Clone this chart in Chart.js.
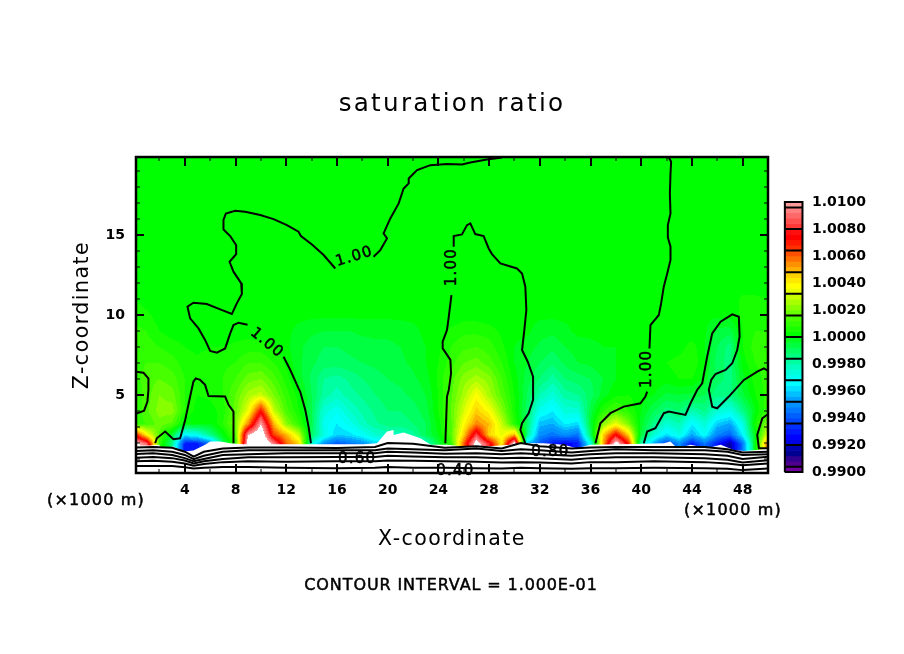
<!DOCTYPE html>
<html><head><meta charset="utf-8">
<style>html,body{margin:0;padding:0;background:#fff}canvas{display:block}</style>
<script src="https://cdn.jsdelivr.net/npm/chart.js@4"></script>
</head><body><canvas id="c" width="904" height="654"></canvas>
<script>
const titleText = "saturation ratio";
const xTitle = "X-coordinate";
const zTitle = "Z-coordinate";
const intervalText = "CONTOUR INTERVAL = 1.000E-01";
const unitText = "(\u00d71000 m)";
const xLabelled = [4,8,12,16,20,24,28,32,36,40,44,48];
const xUnlabelled = [2,6,10,14,18,22,26,30,34,38,42,46];
const zLabelled = [5,10,15];
const zUnlabelled = [1,2,3,4,6,7,8,9,11,12,13,14,16,17,18,19];
const colorbarTicks = [1.01,1.008,1.006,1.004,1.002,1.0,0.998,0.996,0.994,0.992,0.99];

// saturation ratio minus one, in units of 1e-4, on rows of constant height
const fieldX = [0,1,2,3,4,5,6,7,8,9,10,11,12,13,14,15,16,17,18,19,20,21,22,23,24,25,26,27,28,29,30,31,32,33,34,35,36,37,38,39,40,41,42,43,44,45,46,47,48,49,50];
const fieldZ = [1.95,2.5,3.2,4,5,6,7,8,9,10,11,12,20];
const sat_z1 = [110,90,10,-15,-70,-70,-55,-10,10,110,125,95,60,45,-25,-50,-60,-55,-50,-40,-40,-45,-45,-25,-5,10,60,110,80,40,110,-40,-60,-70,-75,-70,-30,50,110,70,-20,-45,-65,-50,-70,-55,-70,-85,-55,0,60];
const sat_z2 = [75,40,15,-5,-35,-30,-15,0,15,100,115,65,50,30,-10,-28,-40,-38,-32,-25,-22,-22,-18,-8,0,15,45,85,45,35,50,-15,-50,-55,-50,-55,-10,45,75,45,-5,-25,-38,-28,-45,-32,-52,-58,-35,0,35];
const sat_z3 = [10,12,18,15,0,0,0,8,20,55,100,50,22,10,-8,-30,-36,-30,-22,-17,-14,-14,-12,-8,2,15,38,55,48,30,8,-10,-42,-44,-35,-38,-5,22,35,20,-2,-15,-25,-20,-35,-25,-40,-45,-28,5,22];
const sat_z4 = [8,15,22,22,8,2,2,6,18,35,72,30,14,4,-8,-26,-31,-24,-19,-15,-12,-12,-10,-6,4,16,32,46,38,22,5,-10,-30,-36,-26,-26,-6,8,14,8,0,-8,-14,-12,-20,-15,-25,-28,-15,0,12];
const sat_z5 = [8,14,20,18,8,4,5,8,16,26,30,20,10,2,-8,-18,-22,-18,-15,-12,-10,-9,-7,-4,4,15,26,38,26,15,4,-8,-20,-26,-18,-16,-10,-2,3,4,2,0,-5,-4,-5,-8,-15,-14,-5,4,10];
const sat_z6 = [10,14,16,14,8,5,6,8,12,18,20,14,6,-2,-9,-16,-18,-15,-12,-10,-8,-7,-5,-2,5,14,22,26,22,12,2,-6,-12,-18,-12,-10,-8,-4,0,2,3,3,2,4,4,-2,-10,-14,-2,6,10];
const sat_z7 = [10,12,12,10,6,5,6,7,8,12,12,8,3,-3,-7,-10,-10,-9,-8,-7,-6,-5,-3,0,4,10,16,18,14,8,0,-4,-8,-11,-7,-4,-3,-1,0,2,2,3,4,6,8,0,-10,-14,2,8,10];
const sat_z8 = [10,10,8,6,4,3,4,4,5,6,6,4,1,-3,-6,-8,-8,-7,-6,-5,-5,-4,-2,0,3,8,11,12,10,5,0,-2,-5,-7,-4,-2,-1,0,0,0,1,1,1,2,6,0,-8,-14,4,10,10];
const sat_z9 = [9,8,4,2,2,1,1,1,2,2,1,1,1,-1,-3,-4,-4,-4,-3,-3,-3,-2,-1,1,2,5,7,7,6,3,1,1,-2,-3,-1,1,1,1,1,1,1,1,1,1,1,1,-5,-6,4,8,8];
const sat_z10 = [7,5,2,1,1,1,1,1,1,1,1,1,1,1,1,1,1,1,1,1,1,1,1,1,1,1,2,2,1,1,1,1,1,1,1,1,1,1,1,1,1,1,1,1,1,1,1,2,5,6,6];
const sat_z11 = [4,2,1,1,1,1,1,1,1,1,1,1,1,1,1,1,1,1,1,1,1,1,1,1,1,1,1,1,1,1,1,1,1,1,1,1,1,1,1,1,1,1,1,1,1,1,1,1,5,5,4];
const sat_z12 = [1,1,1,1,1,1,1,1,1,1,1,1,1,1,1,1,1,1,1,1,1,1,1,1,1,1,1,1,1,1,1,1,1,1,1,1,1,1,1,1,1,1,1,1,1,1,1,1,1,1,1];
const sat_z20 = [1,1,1,1,1,1,1,1,1,1,1,1,1,1,1,1,1,1,1,1,1,1,1,1,1,1,1,1,1,1,1,1,1,1,1,1,1,1,1,1,1,1,1,1,1,1,1,1,1,1,1];
const fieldRows = [sat_z1,sat_z2,sat_z3,sat_z4,sat_z5,sat_z6,sat_z7,sat_z8,sat_z9,sat_z10,sat_z11,sat_z12,sat_z20];

// colour of each 4e-4 band, from 0.9900 upward
const bandColors = ["#7000a0","#500090","#300090","#000090","#0000b0","#0000e0","#0000ff","#0018ff","#0030ff","#0048ff","#0060ff","#0078ff","#0090ff","#00a0ff","#00c0ff","#00e0ff","#00ffff","#00fff0","#00ffd8","#00ffc0","#00ffa0","#00ff80","#00ff60","#00ff40","#00ff20",
"#00ff00","#18ff00","#30ff00","#48ff00","#68ff00","#88ff00","#a8ff00","#c8ff00","#e8ff00","#ffff00","#ffe800","#ffd000","#ffb000","#ff9000","#ff7000","#ff5000","#ff3000","#ff1800","#ff0000","#ff1010","#ff3838","#ff5050","#ff6868","#ff8080","#ff9a9a"];
const colorbarLines = [96,80,64,48,32,16,0,-16,-32,-48,-64,-80,-96];

// 1.00 contours (x km, z km)
const c100a = [[15.87,12.91],[14.95,13.75],[14.03,14.41],[13.16,14.94],[12.97,15.21],[12.05,15.62],[11.0,16.0],[9.95,16.25],[8.76,16.46],[7.97,16.52],[7.24,16.35],[7.05,15.94],[7.05,15.35],[7.58,14.94],[8.05,14.37],[8.05,13.81],[7.53,13.33],[7.84,12.71],[8.45,11.98],[8.5,11.31],[8.1,10.73],[7.71,10.06],[6.79,10.35],[5.74,10.69],[4.68,10.77],[4.21,10.52],[4.42,9.79],[5.08,9.16],[5.6,8.44],[6.0,7.75],[6.53,7.64],[7.18,7.91],[7.58,8.85],[7.84,9.37],[8.24,9.52],[8.95,9.39]];
const c100b = [[11.79,7.39],[12.32,6.56],[12.97,5.41],[13.1,5.21],[13.5,4.07],[13.76,3.02],[13.95,1.98]];
const c100c = [[0.1,6.46],[0.74,6.39],[1.13,6.04],[1.13,5.31],[1.05,4.59],[0.79,4.02],[0.1,3.81]];
const c100d = [[1.66,1.98],[1.79,2.29],[2.45,2.71],[3.1,2.23],[3.63,2.29],[4.03,3.44],[4.42,4.9],[4.68,5.84],[4.87,6.04],[5.21,5.94],[5.6,5.63],[5.87,4.94],[7.18,4.9],[7.45,4.38],[7.84,3.96],[7.84,1.98]];
const c100e = [[18.89,13.64],[19.42,14.06],[19.95,14.79],[19.68,15.1],[20.21,16.04],[20.87,16.98],[21.26,17.91],[21.66,18.23],[21.66,18.54],[22.32,19.06],[23.37,19.37],[24.68,19.44],[25.86,19.41],[26.52,19.54],[27.83,19.73],[29.02,19.85]];
const c100f = [[25.03,11.25],[24.82,9.89],[24.68,9.06],[24.34,8.33],[24.34,7.91],[24.95,7.19],[25.0,6.35],[24.82,5.31],[24.68,4.9],[24.55,1.98]];
const c100g = [[25.21,14.27],[25.21,14.94],[25.86,15.04],[26.26,15.62],[26.52,15.73],[26.91,15.06],[27.57,14.94],[27.97,14.16],[28.23,13.81],[28.89,13.23],[30.2,12.91],[30.6,12.6],[30.86,11.77],[30.94,10.31],[30.78,9.06],[30.6,7.81],[31.05,7.08],[31.47,6.14],[31.47,5.31],[31.47,4.69],[31.12,3.86],[30.6,3.23],[30.47,2.81],[30.86,1.98]];
const c100h = [[42.18,19.85],[42.36,19.58],[42.31,18.85],[42.26,17.6],[42.31,16.35],[42.1,15.62],[42.1,14.85],[42.31,14.27],[42.31,13.44],[42.05,12.6],[41.78,11.77],[41.57,10.73],[41.39,10.0],[40.73,9.37],[40.65,7.91]];
const c100i = [[40.47,5.21],[40.33,4.9],[39.94,4.48],[38.62,4.27],[37.57,3.86],[36.78,3.23],[36.39,1.98]];
const c100j = [[40.2,1.98],[40.47,2.71],[41.12,2.92],[41.78,3.86],[42.18,3.96],[43.49,3.75],[43.89,4.48],[44.41,5.31],[44.81,5.73],[45.2,7.39],[45.6,8.85],[46.26,9.58],[47.18,10.04],[47.7,9.89],[47.76,8.64],[47.57,7.81],[47.18,6.98],[46.65,6.56],[45.86,6.31],[45.52,5.94],[45.33,5.31],[45.6,4.27],[45.99,4.17],[46.91,4.9],[48.1,5.94],[49.15,6.46],[49.68,6.66],[50.1,6.46]];
const c100k = [[50.1,3.86],[49.55,3.54],[49.15,2.5],[49.28,1.67],[50.1,1.67]];
const contourLines = [c100a,c100b,c100c,c100d,c100e,c100f,c100g,c100h,c100i,c100j,c100k];

// contour labels: text, x km, z km, rotation degrees
const contourLabelText = ["1.00","1.00","1.00","1.00","0.60","0.80","0.40"];
const contourLabelX = [17.37,10.47,25.07,40.48,17.59,32.84,25.34];
const contourLabelZ = [13.64,8.25,13.0,6.63,1.0,1.44,0.25];
const contourLabelRot = [-17,40,-90,-90,0,0,0];

// white terrain outline
const terrainTopX = [0.1,1.26,1.92,2.32,3.1,3.9,4.68,5.6,6,6.79,7.58,8.63,13.9,18.1,19.16,19.95,20.47,20.47,21.26,22.58,23.4,24.7,26,27.83,29.68,30.73,32.3,33.9,34.94,36,39.4,41.78,42.3,42.84,43.9,45.2,46.26,47.3,48.1,49.15,50.1];
const terrainTopZ = [1.84,1.84,1.88,1.67,1.77,1.46,1.52,1.88,2.09,2.09,1.98,1.92,1.92,1.92,1.98,2.71,2.81,2.5,2.65,2.29,1.88,1.88,1.77,1.77,1.88,1.98,1.98,1.88,1.67,1.88,1.94,1.98,2.09,1.67,1.88,1.67,1.88,1.56,1.5,1.56,1.67];

// lower contours inside the terrain-following layer
const lowX = [0.1,1.5,3,4,4.7,5.5,7,9,12,16,19,20,22,24.5,27,29,30.5,32,34.5,36,38,41,45,46.8,48,50.1];
const low1 = [1.72,1.75,1.7,1.45,1.15,1.45,1.65,1.72,1.72,1.68,1.75,2.0,1.95,1.7,1.8,1.65,2.0,1.8,1.65,1.72,1.75,1.75,1.75,1.6,1.4,1.45];
const low2 = [1.5,1.55,1.45,1.25,0.98,1.2,1.45,1.55,1.55,1.55,1.55,1.65,1.6,1.55,1.65,1.5,1.6,1.55,1.4,1.5,1.6,1.55,1.55,1.45,1.25,1.3];
const low3 = [1.3,1.35,1.25,1.05,0.85,1.0,1.25,1.3,1.35,1.35,1.35,1.45,1.4,1.32,1.35,1.3,1.35,1.3,1.2,1.3,1.35,1.35,1.3,1.2,1.0,1.15];
const low4 = [1.08,1.12,1.05,0.9,0.72,0.85,1.0,1.1,1.1,1.12,1.12,1.2,1.15,1.1,1.1,1.05,1.08,1.05,0.95,1.05,1.1,1.1,1.05,0.95,0.78,0.92];
const low5 = [0.85,0.88,0.82,0.72,0.58,0.68,0.8,0.85,0.82,0.85,0.85,0.9,0.88,0.85,0.82,0.78,0.8,0.78,0.72,0.8,0.8,0.85,0.8,0.72,0.6,0.72];
const low6 = [0.55,0.55,0.55,0.48,0.4,0.45,0.5,0.5,0.45,0.42,0.45,0.5,0.45,0.45,0.42,0.4,0.45,0.42,0.38,0.42,0.42,0.45,0.42,0.38,0.3,0.4];
const lowLines = [low1,low2,low3,low4,low5,low6];

const sans = '"DejaVu Sans", sans-serif';
const toPts = a => a.map(p => ({x:p[0], y:p[1]}));
const colorFor = v => {
  if (v >= 100 || v < -100) return null;
  return bandColors[Math.min(49, Math.floor((v + 100) / 4))];
};
const hexRGB = h => [parseInt(h.slice(1,3),16),parseInt(h.slice(3,5),16),parseInt(h.slice(5,7),16)];

function sampleField(x, z) {
  let i = Math.floor(x); i = Math.max(0, Math.min(fieldX.length - 2, i));
  const tx = Math.max(0, Math.min(1, (x - fieldX[i]) / (fieldX[i+1] - fieldX[i])));
  let j = 0; while (j < fieldZ.length - 2 && z > fieldZ[j+1]) j++;
  const tz = Math.max(0, Math.min(1, (z - fieldZ[j]) / (fieldZ[j+1] - fieldZ[j])));
  const a = fieldRows[j], b = fieldRows[j+1];
  return (a[i]*(1-tx)+a[i+1]*tx)*(1-tz) + (b[i]*(1-tx)+b[i+1]*tx)*tz;
}

const spaced = (obj, method, spacing) => {
  const f = obj[method];
  obj[method] = function(...args){ this.ctx.letterSpacing = spacing; f.apply(this, args); this.ctx.letterSpacing = '0px'; };
};

const fieldPlugin = {
  id:'fieldPlugin',
  beforeDraw(chart){
    if (chart.$spaced) return; chart.$spaced = true;
    spaced(chart.titleBlock,'draw','2.3px');
    spaced(chart.scales.x,'drawTitle','1.5px');
    spaced(chart.scales.y,'drawTitle','1.5px');
  },
  beforeDatasetsDraw(chart){
    const {ctx, chartArea:a, scales:{x,y}} = chart;
    const w = Math.round(a.right-a.left), h = Math.round(a.bottom-a.top);
    const off = document.createElement('canvas'); off.width = w; off.height = h;
    const oc = off.getContext('2d'); const img = oc.createImageData(w,h);
    for (let py=0; py<h; py++) { const z = y.getValueForPixel(a.top+py+0.5);
      for (let px=0; px<w; px++) { const v = sampleField(x.getValueForPixel(a.left+px+0.5), z);
        const c = colorFor(v), k = (py*w+px)*4; const rgb = c ? hexRGB(c) : [255,255,255];
        img.data[k]=rgb[0]; img.data[k+1]=rgb[1]; img.data[k+2]=rgb[2]; img.data[k+3]=255; } }
    oc.putImageData(img,0,0);
    ctx.drawImage(off,a.left,a.top);
  }
};

const inked = (ctx,t,px,py) => { ctx.fillText(t,px,py); ctx.strokeText(t,px,py); };

const decorPlugin = {
  id:'decorPlugin',
  afterDatasetsDraw(chart){
    const {ctx, chartArea:a, scales:{x,y}} = chart;
    ctx.save();
    ctx.strokeStyle='#000'; ctx.lineWidth=2; ctx.beginPath();
    const vt=(v,l)=>{const p=Math.round(x.getPixelForValue(v));ctx.moveTo(p,a.bottom);ctx.lineTo(p,a.bottom-l);ctx.moveTo(p,a.top);ctx.lineTo(p,a.top+l);};
    const ht=(v,l)=>{const p=Math.round(y.getPixelForValue(v));ctx.moveTo(a.left,p);ctx.lineTo(a.left+l,p);ctx.moveTo(a.right,p);ctx.lineTo(a.right-l,p);};
    xLabelled.forEach(v=>vt(v,9)); zLabelled.forEach(v=>ht(v,8));
    ctx.stroke();
    ctx.lineWidth=1; ctx.beginPath();
    xUnlabelled.forEach(v=>vt(v,4)); zUnlabelled.forEach(v=>ht(v,4));
    ctx.stroke();
    ctx.lineWidth=2.5; ctx.strokeRect(a.left,a.top,a.right-a.left,a.bottom-a.top);
    ctx.fillStyle='#000'; ctx.textAlign='center'; ctx.textBaseline='middle';
    ctx.lineWidth=0.5; ctx.lineJoin='round';
    ctx.font='15px '+sans; ctx.letterSpacing='1.2px';
    contourLabelText.forEach((t,i)=>{
      ctx.save(); ctx.translate(x.getPixelForValue(contourLabelX[i]),y.getPixelForValue(contourLabelZ[i]));
      ctx.rotate(contourLabelRot[i]*Math.PI/180); inked(ctx,t,0,0); ctx.restore();
    });
    ctx.font='16px '+sans; ctx.letterSpacing='1.2px';
    inked(ctx,unitText,96,501); inked(ctx,unitText,733,511);
    ctx.font='16px '+sans; ctx.letterSpacing='0.9px';
    inked(ctx,intervalText,451,586);
    ctx.restore();
  }
};

const datasets = [];
contourLines.forEach((c,i)=>datasets.push({label:'1.00 contour '+(i+1),type:'scatter',data:toPts(c),showLine:true,pointRadius:0,borderColor:'#000',borderWidth:2,tension:0,fill:false,order:1}));
lowLines.forEach((l,i)=>datasets.push({label:'lower contour '+(i+1),type:'scatter',data:lowX.map((vx,k)=>({x:vx,y:l[k]})),showLine:true,pointRadius:0,borderColor:'#000',borderWidth:2,tension:0,fill:false,order:2}));
datasets.push({label:'terrain',type:'scatter',data:terrainTopX.map((vx,k)=>({x:vx,y:terrainTopZ[k]})),showLine:true,pointRadius:0,borderWidth:0,borderColor:'#fff',backgroundColor:'#fff',fill:'start',tension:0,order:5});
const fieldPts=[]; fieldRows.forEach((r,j)=>r.forEach((v,i)=>fieldPts.push({x:fieldX[i],y:fieldZ[j],v})));
datasets.push({label:'saturation ratio',type:'scatter',data:fieldPts,pointRadius:0,showLine:false,order:9});
// colour bar
const cbX = 52.0, cbLeft = 51.33, cbRight = 52.72;
datasets.push({label:'colour bar',type:'bar',xAxisID:'x',yAxisID:'y2',clip:false,barThickness:18,borderWidth:0,order:4,
  data:bandColors.map((c,i)=>({x:cbX,y:[0.99+i*0.0004,0.99+(i+1)*0.0004]})),
  backgroundColor:bandColors});
const cbLinePts=[{x:cbLeft,y:0.99},{x:cbRight,y:0.99},{x:cbRight,y:1.01},{x:cbLeft,y:1.01},{x:cbLeft,y:0.99},{x:NaN,y:NaN}];
colorbarLines.forEach(v=>{cbLinePts.push({x:cbLeft,y:1+v*1e-4},{x:cbRight,y:1+v*1e-4},{x:NaN,y:NaN});});
datasets.push({label:'colour bar lines',type:'scatter',yAxisID:'y2',clip:false,data:cbLinePts,showLine:true,pointRadius:0,borderColor:'#000',borderWidth:2,order:3});

new Chart(document.getElementById('c'),{
  type:'scatter',
  data:{datasets},
  options:{
    responsive:false,animation:false,devicePixelRatio:1,
    layout:{padding:0},
    plugins:{legend:{display:false},tooltip:{enabled:false},
      title:{display:true,text:titleText,color:'#000',font:{family:sans,size:24.6,weight:'normal',lineHeight:1.2},padding:{top:90,bottom:37.5}}},
    scales:{
      x:{type:'linear',min:0.15,max:50.0,position:'bottom',offset:false,
        afterFit(s){s.height=654-473;},
        afterBuildTicks(s){s.ticks=xLabelled.map(v=>({value:v}));},
        grid:{display:false,offset:false},border:{display:false},
        ticks:{autoSkip:false,maxRotation:0,padding:1,color:'#000',font:{family:sans,size:14,weight:'bold'},callback:v=>String(v)},
        title:{display:true,text:xTitle,color:'#000',font:{family:sans,size:20.5,lineHeight:1.2},padding:{top:0,bottom:102}}},
      y:{type:'linear',min:0.12,max:19.88,position:'left',
        afterFit(s){s.width=136;},
        afterBuildTicks(s){s.ticks=zLabelled.map(v=>({value:v}));},
        grid:{display:false},border:{display:false},
        ticks:{autoSkip:false,padding:3,color:'#000',font:{family:sans,size:14,weight:'bold'},callback:v=>String(v)},
        title:{display:true,text:zTitle,color:'#000',font:{family:sans,size:20.5,lineHeight:1.2},padding:{top:70,bottom:0}}},
      y2:{type:'linear',min:0.98993,max:1.01333,position:'right',
        afterFit(s){s.width=904-768;},
        afterBuildTicks(s){s.ticks=colorbarTicks.map(v=>({value:v}));},
        grid:{display:false},border:{display:false},
        ticks:{autoSkip:false,padding:36,color:'#000',font:{family:sans,size:14,weight:'bold'},callback:v=>v.toFixed(4)}}
    }
  },
  plugins:[fieldPlugin,decorPlugin]
});
</script></body></html>
